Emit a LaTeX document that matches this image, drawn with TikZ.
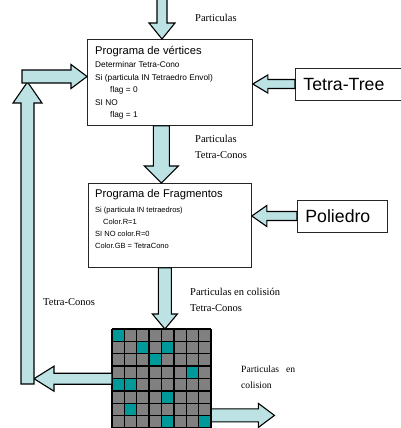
\documentclass[tikz,border=0pt]{standalone}
\usepackage{fontspec}
\setmainfont{Liberation Serif}
\newfontfamily\boxfont{Liberation Sans}
\usetikzlibrary{calc}

\definecolor{arrowfill}{RGB}{188,226,228}
\definecolor{hitcell}{RGB}{0,153,153}
\definecolor{cellgray}{RGB}{128,128,128}

\tikzset{
  fatarrow/.style={draw=black, line width=1.1pt, fill=arrowfill, line join=miter},
  progbox/.style={draw=black!85, line width=0.8pt, fill=white, inner sep=0pt},
  sourcebox/.style={draw=black!85, line width=0.8pt, fill=white, inner ysep=0pt,
    inner xsep=8pt, align=left, font=\boxfont\fontsize{17.7}{20}\selectfont},
  flowlabel/.style={font=\fontsize{10.5}{12}\selectfont, inner sep=0pt, anchor=west},
  boxtitle/.style={font=\boxfont\fontsize{11.2}{13}\selectfont, inner sep=0pt, anchor=west},
  boxline/.style={font=\boxfont\fontsize{8.3}{9}\selectfont, inner sep=0pt, anchor=west},
  fragline/.style={font=\boxfont\fontsize{7.5}{9}\selectfont, inner sep=0pt, anchor=west},
  gridline/.style={draw=black, line width=1.3pt},
}

% block arrow: tail, tip, shaft half-width, head half-width, head length
\newcommand{\blockarrow}[5]{%
  \coordinate (ba-h) at ($(#2)!#5!(#1)$);
  \draw[fatarrow] ($(#1)!#3!90:(#2)$) -- ($(ba-h)!#3!90:(#2)$)
    -- ($(ba-h)!#4!90:(#2)$) -- (#2) -- ($(ba-h)!#4!-90:(#2)$)
    -- ($(ba-h)!#3!-90:(#2)$) -- ($(#1)!#3!-90:(#2)$) -- cycle;
}

\begin{document}
\begin{tikzpicture}[x=1pt, y=-1pt]
\useasboundingbox (0,0) rectangle (401,428);

% program boxes
\node[progbox, anchor=north west, minimum width=165pt, minimum height=86pt] (vert) at (87,39) {};
\node[progbox, anchor=north west, minimum width=163pt, minimum height=84pt] (frag) at (88,183) {};

% vertex program text
\node[boxtitle] (v0) at (95,52) {Programa de vértices};
\node[boxline] (v1) at (95,65) {Determinar Tetra-Cono};
\node[boxline] (v2) at (95,78) {Si (particula IN Tetraedro Envol)};
\node[boxline] (v3) at (110,90) {flag = 0};
\node[boxline] (v4) at (95,103) {SI NO};
\node[boxline] (v5) at (110,115) {flag = 1};

% fragment program text
\node[boxtitle] (f0) at (95,195) {Programa de Fragmentos};
\node[fragline] (f1) at (95,211) {Si (particula IN tetraedros)};
\node[fragline] (f2) at (103,222) {Color.R=1};
\node[fragline] (f3) at (95,234) {SI NO color.R=0};
\node[fragline] (f4) at (95,246) {Color.GB = TetraCono};

% input structures
\node[sourcebox, anchor=west, minimum height=32pt, text width=92pt] (tree) at (295,84) {Tetra-Tree};
\node[sourcebox, anchor=west, minimum height=32pt, text width=74pt] (poly) at (297,216) {Poliedro};

% collision grid
\node[anchor=north west, minimum size=99pt, inner sep=0pt] (grid) at (112,329) {};
\fill[cellgray] (grid.north west) rectangle (grid.south east);
\foreach \r/\c in {0/0,1/2,1/4,2/3,3/6,4/0,4/1,5/4,6/1,7/4,7/7}
  \fill[hitcell] ($(grid.north west)+(\c*12.375,\r*12.375)$) rectangle +(12.375,12.375);
\foreach \i in {0,...,8} {
  \draw[gridline] ($(grid.north west)+(\i*12.375,0)$) -- ($(grid.south west)+(\i*12.375,0)$);
  \draw[gridline] ($(grid.north west)+(0,\i*12.375)$) -- ($(grid.north east)+(0,\i*12.375)$);
}

% arrow end points
\coordinate (in-tail) at (162,-4);
\coordinate (in-tip) at (in-tail |- vert.north);
\coordinate (mid-tail) at ($(vert.south)+(-8.5,0)$);
\coordinate (mid-tip) at (mid-tail |- frag.north);
\coordinate (frag-tail) at ($(frag.south)+(-5,0)$);
\coordinate (frag-tip) at (frag-tail |- grid.north);
\coordinate (tree-tip) at (vert.east |- tree.west);
\coordinate (poly-tip) at (frag.east |- poly.west);
\coordinate (up-tail) at (27.5,384);
\coordinate (up-tip) at (27.5,82);
\coordinate (back-tip) at ($(up-tail |- grid.west)+(6.5,0)$);
\coordinate (out-tail) at ($(grid.south east)+(0,-13)$);
\coordinate (out-tip) at ($(out-tail)+(63,0)$);
\coordinate (loop-tail) at (22,76.5);
\coordinate (loop-tip) at (vert.west |- loop-tail);

% block arrows
\blockarrow{in-tail}{in-tip}{5pt}{13pt}{16pt}
\blockarrow{mid-tail}{mid-tip}{8pt}{17pt}{17pt}
\blockarrow{frag-tail}{frag-tip}{6.5pt}{12.5pt}{15pt}
\blockarrow{tree.west}{tree-tip}{4.5pt}{9pt}{15pt}
\blockarrow{poly.west}{poly-tip}{4.5pt}{10.5pt}{15pt}
\blockarrow{grid.west}{back-tip}{5.5pt}{12.5pt}{20pt}
\blockarrow{out-tail}{out-tip}{6.5pt}{12pt}{16pt}
\blockarrow{up-tail}{up-tip}{6.5pt}{14.5pt}{21pt}
\blockarrow{loop-tail}{loop-tip}{6.5pt}{12pt}{16pt}

% flow labels
\node[flowlabel] (l-in) at (195,18) {Particulas};
\node[flowlabel] (l-mid1) at (195,139) {Particulas};
\node[flowlabel] (l-mid2) at (195,155) {Tetra-Conos};
\node[flowlabel] (l-col1) at (190,292) {Particulas en colisión};
\node[flowlabel] (l-col2) at (190,308) {Tetra-Conos};
\node[flowlabel] (l-back) at (43,302) {Tetra-Conos};
\node[flowlabel, font=\fontsize{9.6}{11}\selectfont] (l-out1) at (241,369) {Particulas\hspace{7pt}en};
\node[flowlabel, font=\fontsize{9.6}{11}\selectfont] (l-out2) at (241,385) {colision};
\end{tikzpicture}
\end{document}
